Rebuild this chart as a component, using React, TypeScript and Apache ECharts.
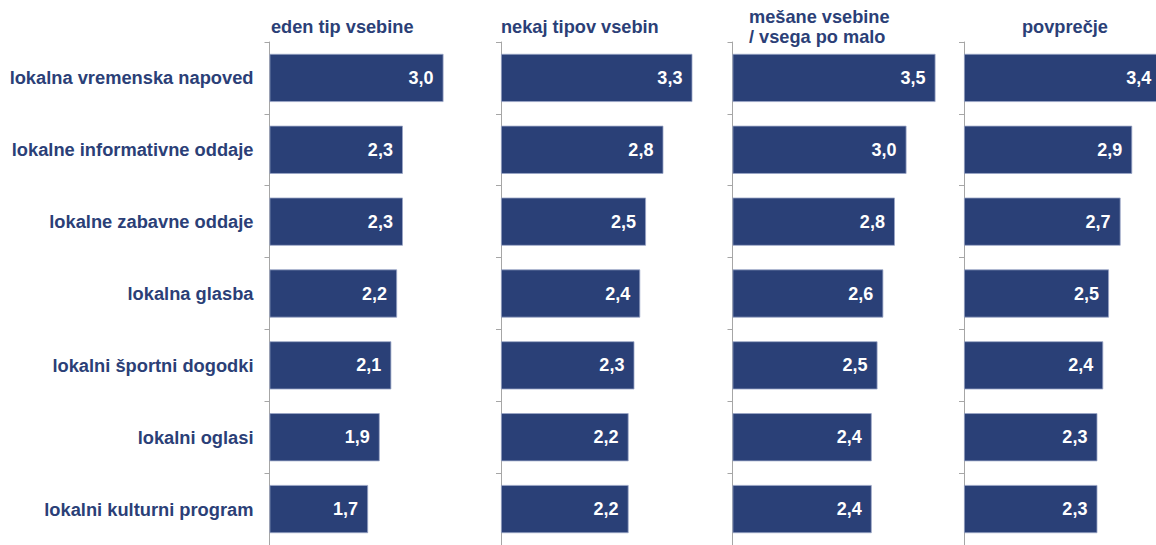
import React, { useEffect, useRef } from "react";
import * as echarts from "echarts";

const categories = [
  "lokalna vremenska napoved",
  "lokalne informativne oddaje",
  "lokalne zabavne oddaje",
  "lokalna glasba",
  "lokalni športni dogodki",
  "lokalni oglasi",
  "lokalni kulturni program",
];
const panelTitles = ["eden tip vsebine", "nekaj tipov vsebin", "mešane vsebine\n/ vsega po malo", "povprečje"];
const edenTip = [3.0, 2.3, 2.3, 2.2, 2.1, 1.9, 1.7];
const nekajTipov = [3.3, 2.8, 2.5, 2.4, 2.3, 2.2, 2.2];
const mesane = [3.5, 3.0, 2.8, 2.6, 2.5, 2.4, 2.4];
const povprecje = [3.4, 2.9, 2.7, 2.5, 2.4, 2.3, 2.3];

const seriesData = [edenTip, nekajTipov, mesane, povprecje];

const FONT = "'Liberation Sans', Arial, Helvetica, sans-serif";
const TEXT = "#2B3F77";
const BAR = "#2A4077";

export default function App() {
  const ref = useRef<HTMLDivElement>(null);
  useEffect(() => {
    document.body.style.margin = "0";
    const chart = echarts.init(ref.current!, null, { renderer: "svg" });
    const lefts = [269.5, 501, 732.5, 964];
    const gridTop = 42;
    const gridHeight = 509;
    const gridWidth = 232;
    const grids = lefts.map((l) => ({ left: l, top: gridTop, width: gridWidth, height: gridHeight }));
    const xAxes = lefts.map((_, i) => ({ type: "value", gridIndex: i, min: 0, max: 4, show: false }));
    const yAxes = lefts.map((_, i) => ({
      type: "category",
      gridIndex: i,
      data: categories,
      inverse: true,
      axisLine: { show: true, lineStyle: { color: "#A6A6A6", width: 1 } },
      axisTick: { show: true, length: 5, lineStyle: { color: "#A6A6A6" } },
      axisLabel: {
        show: i === 0,
        margin: 16,
        color: TEXT,
        fontFamily: FONT,
        fontWeight: "bold",
        fontSize: 18.3,
      },
      splitLine: { show: false },
    }));
    const series = seriesData.map((d, i) => ({
      type: "bar",
      xAxisIndex: i,
      yAxisIndex: i,
      data: d,
      barCategoryGap: "33%",
      itemStyle: { color: BAR, borderColor: "#9AA6C6", borderWidth: 0.8 },
      label: {
        show: true,
        position: "insideRight",
        distance: 10,
        color: "#FFFFFF",
        fontFamily: FONT,
        fontWeight: "bold",
        fontSize: 18,
        formatter: (p: any) => Number(p.value).toFixed(1).replace(".", ","),
      },
    }));
    const titlePos = [
      { x: 271, y: 26.5 },
      { x: 501, y: 26.5 },
      { x: 749, y: 6.25 },
      { x: 1022, y: 26.5 },
    ];
    const graphics = panelTitles.map((t, i) => ({
      type: "text",
      x: titlePos[i].x,
      y: titlePos[i].y,
      style: {
        text: t,
        fill: TEXT,
        font: `bold 18.2px ${FONT}`,
        lineHeight: 20.5,
        align: "left",
        verticalAlign: i === 2 ? "top" : "middle",
      },
    }));
    chart.setOption({
      animation: false,
      grid: grids,
      xAxis: xAxes,
      yAxis: yAxes,
      series,
      graphic: graphics,
    });
    return () => chart.dispose();
  }, []);
  return (
    <div style={{ width: 1156, height: 545, overflow: "hidden", position: "relative" }}>
      <div ref={ref} style={{ width: 1210, height: 545 }} />
    </div>
  );
}
